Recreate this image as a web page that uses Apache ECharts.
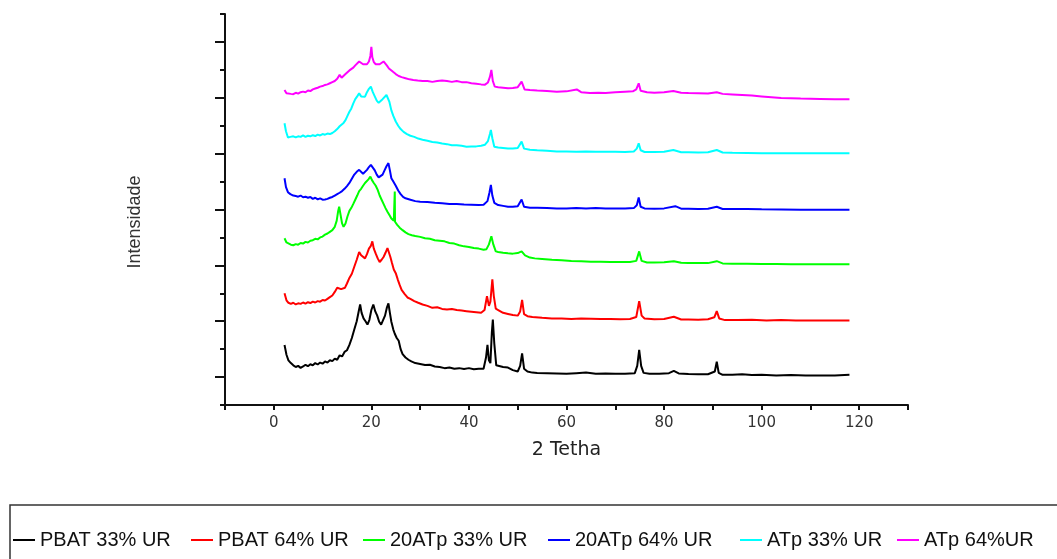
<!DOCTYPE html>
<html>
<head>
<meta charset="utf-8">
<script src="https://cdn.jsdelivr.net/npm/echarts@6/dist/echarts.min.js"></script>
<style>
html,body{margin:0;padding:0;background:#fff;}
#chart{width:1057px;height:559px;}
</style>
</head>
<body>
<div id="chart"></div>
<script>
// ---- data (2θ, intensity offset units) ----
const seriesNames = ['PBAT 33% UR', 'PBAT 64% UR', '20ATp 33% UR', '20ATp 64% UR', 'ATp 33% UR', 'ATp 64%UR'];
const seriesColors = ['#000000', '#ff0000', '#00ff00', '#0000ff', '#00ffff', '#ff00ff'];
const xTickLabels = [0, 20, 40, 60, 80, 100, 120];
const yMajorTicks = [1, 3, 5, 7, 9, 11, 13];

const pbat33 = [[2.2,2.15],[2.6,1.8],[3.0,1.6],[3.5,1.5],[4.0,1.42],[4.5,1.36],[5.0,1.4],[5.5,1.33],[6.0,1.38],[6.5,1.44],[7.0,1.39],[7.5,1.46],[8.0,1.42],[8.5,1.5],[9.0,1.45],[9.5,1.52],[10.0,1.48],[10.5,1.56],[11.0,1.52],[11.5,1.6],[12.0,1.57],[12.5,1.66],[13.0,1.62],[13.5,1.78],[14.0,1.74],[14.5,1.9],[15.0,1.96],[15.5,2.15],[16.0,2.4],[16.5,2.7],[17.0,3.0],[17.4,3.35],[17.7,3.6],[18.0,3.3],[18.4,3.1],[18.8,3.0],[19.2,2.88],[19.6,3.05],[20.0,3.4],[20.4,3.6],[20.8,3.35],[21.2,3.2],[21.6,2.98],[22.0,2.88],[22.4,2.95],[22.8,3.2],[23.2,3.5],[23.5,3.64],[23.8,3.3],[24.1,2.98],[24.5,2.7],[24.8,2.55],[25.2,2.4],[25.6,2.3],[26.0,2.0],[26.4,1.82],[27.0,1.7],[27.6,1.62],[28.2,1.56],[29.0,1.5],[30.0,1.47],[31.0,1.43],[32.0,1.44],[33.0,1.38],[34.0,1.36],[35.0,1.32],[36.0,1.34],[37.0,1.3],[38.0,1.32],[39.0,1.29],[40.0,1.32],[41.0,1.28],[42.0,1.3],[43.0,1.3],[43.5,1.7],[43.8,2.15],[44.1,1.6],[44.4,1.5],[44.7,2.6],[44.9,3.06],[45.2,2.2],[45.6,1.42],[46.0,1.4],[47.0,1.36],[48.0,1.34],[49.0,1.25],[50.0,1.2],[50.5,1.4],[50.9,1.85],[51.3,1.3],[52.0,1.2],[53.0,1.16],[54.0,1.15],[56.0,1.14],[58.0,1.13],[60.0,1.12],[62.0,1.14],[64.0,1.16],[66.0,1.12],[68.0,1.13],[70.0,1.12],[72.0,1.12],[74.0,1.14],[74.5,1.4],[74.9,1.97],[75.3,1.4],[75.8,1.15],[77.0,1.12],[79.0,1.12],[81.0,1.14],[82.0,1.22],[83.0,1.13],[85.0,1.11],[87.0,1.1],[89.0,1.1],[90.4,1.2],[90.8,1.55],[91.2,1.15],[92.0,1.08],[94.0,1.08],[96.0,1.1],[98.0,1.07],[100.0,1.08],[103.0,1.06],[106.0,1.07],[109.0,1.06],[112.0,1.06],[115.0,1.06],[118.0,1.08]];

const pbat64 = [[2.2,4.0],[2.6,3.75],[3.0,3.66],[3.5,3.62],[4.0,3.66],[4.5,3.6],[5.0,3.64],[5.5,3.62],[6.0,3.67],[6.5,3.63],[7.0,3.68],[7.5,3.65],[8.0,3.7],[8.5,3.67],[9.0,3.72],[9.5,3.7],[10.0,3.76],[10.5,3.74],[11.0,3.8],[11.5,3.86],[12.0,3.92],[12.5,4.05],[13.0,4.2],[13.4,4.26],[13.8,4.15],[14.2,4.1],[14.6,4.2],[15.0,4.35],[15.5,4.55],[16.0,4.7],[16.5,4.95],[17.0,5.2],[17.5,5.48],[17.9,5.36],[18.3,5.3],[18.7,5.25],[19.1,5.4],[19.5,5.6],[19.9,5.7],[20.2,5.86],[20.5,5.6],[20.9,5.42],[21.3,5.25],[21.7,5.12],[22.1,5.2],[22.5,5.3],[22.9,5.45],[23.3,5.62],[23.6,5.68],[23.9,5.3],[24.2,5.1],[24.6,4.85],[25.0,4.72],[25.4,4.5],[25.8,4.3],[26.2,4.12],[26.8,3.98],[27.4,3.85],[28.0,3.8],[28.8,3.72],[29.6,3.66],[30.5,3.6],[31.5,3.55],[32.5,3.48],[33.5,3.5],[34.5,3.44],[35.5,3.42],[36.5,3.44],[37.5,3.4],[38.5,3.38],[39.5,3.36],[40.5,3.34],[41.5,3.32],[42.5,3.3],[43.2,3.4],[43.7,3.9],[44.1,3.55],[44.4,3.7],[44.8,4.5],[45.1,3.9],[45.5,3.45],[46.0,3.4],[47.0,3.3],[48.0,3.26],[49.0,3.22],[50.0,3.2],[50.5,3.35],[50.9,3.76],[51.3,3.25],[52.0,3.18],[53.0,3.15],[55.0,3.12],[57.0,3.1],[59.0,3.1],[61.0,3.08],[63.0,3.1],[65.0,3.09],[67.0,3.08],[69.0,3.08],[71.0,3.07],[73.0,3.08],[74.3,3.15],[74.9,3.72],[75.4,3.2],[76.0,3.1],[78.0,3.07],[80.0,3.08],[82.0,3.16],[83.5,3.06],[85.0,3.06],[87.0,3.05],[89.0,3.07],[90.3,3.14],[90.8,3.36],[91.3,3.1],[92.5,3.04],[95.0,3.04],[98.0,3.05],[101.0,3.03],[104.0,3.04],[107.0,3.03],[110.0,3.03],[113.0,3.03],[116.0,3.03],[118.0,3.03]];

const atp20_33 = [[2.2,5.97],[2.6,5.82],[3.0,5.78],[3.5,5.74],[4.0,5.72],[4.5,5.76],[5.0,5.74],[5.5,5.8],[6.0,5.78],[6.5,5.84],[7.0,5.82],[7.5,5.88],[8.0,5.9],[8.5,5.95],[9.0,5.93],[9.5,6.0],[10.0,6.03],[10.5,6.1],[11.0,6.14],[11.5,6.2],[12.0,6.26],[12.5,6.38],[12.9,6.6],[13.2,6.95],[13.4,7.1],[13.7,6.8],[14.0,6.5],[14.3,6.38],[14.7,6.5],[15.1,6.75],[15.5,6.95],[15.9,7.06],[16.3,7.2],[16.7,7.35],[17.1,7.5],[17.5,7.66],[17.9,7.74],[18.3,7.85],[18.7,7.95],[19.0,8.0],[19.4,8.08],[19.8,8.18],[20.1,8.06],[20.5,7.95],[20.9,7.85],[21.3,7.7],[21.7,7.5],[22.1,7.35],[22.5,7.2],[22.9,7.05],[23.3,6.92],[23.7,6.8],[24.1,6.68],[24.6,6.6],[24.75,6.6],[24.8,7.64],[24.85,6.56],[25.3,6.45],[25.8,6.35],[26.4,6.26],[27.0,6.18],[27.6,6.12],[28.3,6.08],[29.0,6.05],[30.0,6.02],[31.0,5.97],[32.0,5.95],[33.0,5.9],[34.0,5.88],[35.0,5.86],[36.0,5.8],[37.0,5.78],[38.0,5.72],[39.0,5.68],[40.0,5.66],[41.0,5.62],[42.0,5.6],[43.0,5.56],[43.6,5.58],[44.1,5.75],[44.6,6.04],[45.0,5.75],[45.5,5.5],[46.0,5.48],[47.0,5.45],[48.0,5.43],[49.0,5.42],[50.0,5.44],[50.8,5.5],[51.5,5.36],[52.5,5.28],[53.5,5.25],[55.0,5.23],[57.0,5.2],[59.0,5.18],[61.0,5.16],[63.0,5.15],[65.0,5.13],[67.0,5.13],[69.0,5.12],[71.0,5.12],[73.0,5.12],[74.3,5.16],[74.9,5.5],[75.4,5.16],[76.5,5.1],[78.0,5.1],[80.0,5.11],[82.0,5.15],[83.5,5.09],[85.0,5.08],[87.0,5.08],[89.0,5.08],[90.8,5.15],[92.0,5.07],[94.0,5.06],[97.0,5.06],[100.0,5.05],[103.0,5.05],[106.0,5.04],[109.0,5.04],[112.0,5.04],[115.0,5.04],[118.0,5.04]];

const atp20_64 = [[2.2,8.12],[2.5,7.8],[2.9,7.62],[3.4,7.55],[4.0,7.5],[4.5,7.48],[5.0,7.46],[5.5,7.5],[6.0,7.44],[6.5,7.46],[7.0,7.42],[7.5,7.45],[8.0,7.38],[8.5,7.42],[9.0,7.36],[9.5,7.4],[10.0,7.35],[10.5,7.36],[11.0,7.38],[11.5,7.42],[12.0,7.45],[12.5,7.5],[13.0,7.55],[13.5,7.6],[14.0,7.66],[14.5,7.74],[15.0,7.84],[15.5,7.95],[16.0,8.1],[16.5,8.25],[17.0,8.35],[17.5,8.42],[17.9,8.36],[18.3,8.28],[18.7,8.3],[19.1,8.42],[19.5,8.52],[19.9,8.6],[20.3,8.5],[20.7,8.4],[21.1,8.25],[21.5,8.15],[21.9,8.12],[22.3,8.25],[22.7,8.4],[23.1,8.55],[23.5,8.66],[23.8,8.4],[24.1,8.12],[24.5,8.0],[25.0,7.85],[25.5,7.68],[26.0,7.55],[26.5,7.45],[27.0,7.4],[28.0,7.35],[29.0,7.3],[30.0,7.28],[31.5,7.27],[33.0,7.24],[34.5,7.22],[36.0,7.2],[37.5,7.2],[39.0,7.18],[40.5,7.17],[42.0,7.16],[43.0,7.17],[43.8,7.3],[44.2,7.6],[44.5,7.88],[44.8,7.5],[45.2,7.24],[46.0,7.16],[47.0,7.13],[48.0,7.1],[49.0,7.1],[50.0,7.12],[50.8,7.36],[51.3,7.1],[52.5,7.06],[54.0,7.06],[56.0,7.05],[58.0,7.04],[60.0,7.04],[62.0,7.05],[64.0,7.04],[66.0,7.05],[68.0,7.04],[70.0,7.04],[72.0,7.04],[73.8,7.05],[74.4,7.15],[74.8,7.43],[75.2,7.1],[76.0,7.04],[78.0,7.03],[80.0,7.04],[82.3,7.12],[83.5,7.03],[85.0,7.03],[87.0,7.02],[89.0,7.03],[90.8,7.1],[92.0,7.02],[94.0,7.02],[97.0,7.02],[100.0,7.01],[104.0,7.0],[108.0,6.99],[112.0,6.99],[115.0,6.99],[118.0,6.99]];

const atp33 = [[2.2,10.09],[2.5,9.8],[2.9,9.58],[3.4,9.6],[4.0,9.62],[4.5,9.58],[5.0,9.62],[5.5,9.6],[6.0,9.65],[6.5,9.6],[7.0,9.64],[7.5,9.62],[8.0,9.66],[8.5,9.63],[9.0,9.68],[9.5,9.65],[10.0,9.7],[10.5,9.68],[11.0,9.72],[11.5,9.7],[12.0,9.74],[12.5,9.8],[13.0,9.88],[13.5,9.98],[13.9,10.04],[14.3,10.1],[14.7,10.2],[15.1,10.35],[15.5,10.5],[15.9,10.62],[16.3,10.8],[16.7,10.95],[17.1,11.05],[17.5,11.16],[17.9,11.05],[18.3,11.1],[18.7,11.04],[19.1,11.2],[19.5,11.32],[19.9,11.4],[20.3,11.2],[20.7,11.05],[21.1,10.9],[21.5,10.82],[21.9,10.85],[22.3,10.95],[22.7,11.02],[23.1,11.1],[23.4,11.12],[23.7,10.85],[24.1,10.55],[24.5,10.35],[25.0,10.15],[25.5,10.0],[26.0,9.88],[26.6,9.78],[27.3,9.7],[28.0,9.64],[28.8,9.6],[29.6,9.54],[30.5,9.5],[31.5,9.46],[32.5,9.42],[33.5,9.4],[34.5,9.36],[35.5,9.34],[36.5,9.3],[37.5,9.3],[38.5,9.28],[39.5,9.25],[40.5,9.26],[41.5,9.26],[42.5,9.28],[43.3,9.32],[43.9,9.45],[44.3,9.7],[44.5,9.85],[44.8,9.55],[45.2,9.25],[46.0,9.22],[47.0,9.2],[48.0,9.18],[49.0,9.18],[50.0,9.2],[50.8,9.43],[51.3,9.18],[52.5,9.14],[54.0,9.12],[56.0,9.1],[58.0,9.08],[60.0,9.08],[62.0,9.07],[64.0,9.08],[66.0,9.07],[68.0,9.07],[70.0,9.07],[72.0,9.06],[73.8,9.08],[74.4,9.18],[74.8,9.37],[75.2,9.12],[76.0,9.06],[78.0,9.06],[80.0,9.07],[81.9,9.13],[83.5,9.05],[85.0,9.05],[87.0,9.04],[89.0,9.05],[90.8,9.13],[92.0,9.04],[94.0,9.03],[97.0,9.02],[100.0,9.01],[104.0,9.01],[108.0,9.01],[112.0,9.01],[115.0,9.01],[118.0,9.01]];

const atp64 = [[2.2,11.28],[2.6,11.16],[3.0,11.12],[3.5,11.14],[4.0,11.13],[4.5,11.18],[5.0,11.15],[5.5,11.2],[6.0,11.22],[6.5,11.2],[7.0,11.26],[7.5,11.24],[8.0,11.3],[8.5,11.33],[9.0,11.36],[9.5,11.4],[10.0,11.42],[10.5,11.46],[11.0,11.48],[11.5,11.52],[12.0,11.56],[12.5,11.6],[13.0,11.68],[13.5,11.82],[13.9,11.72],[14.3,11.75],[14.7,11.85],[15.1,11.9],[15.5,11.98],[15.9,12.04],[16.3,12.08],[16.7,12.16],[17.1,12.22],[17.5,12.3],[17.9,12.24],[18.3,12.2],[18.7,12.16],[19.1,12.2],[19.5,12.3],[19.8,12.5],[20.0,12.82],[20.2,12.45],[20.5,12.28],[20.9,12.2],[21.3,12.16],[21.7,12.2],[22.1,12.26],[22.5,12.3],[22.8,12.28],[23.2,12.15],[23.6,12.05],[24.0,12.0],[24.5,11.92],[25.0,11.85],[25.6,11.78],[26.2,11.74],[27.0,11.7],[27.8,11.66],[28.6,11.64],[29.5,11.62],[30.5,11.6],[31.5,11.6],[32.5,11.57],[33.5,11.6],[34.5,11.62],[35.5,11.6],[36.5,11.57],[37.5,11.6],[38.5,11.56],[39.5,11.56],[40.5,11.52],[41.5,11.5],[42.5,11.48],[43.3,11.47],[43.9,11.55],[44.3,11.75],[44.6,12.0],[44.9,11.6],[45.3,11.4],[46.0,11.38],[47.0,11.36],[48.0,11.34],[49.0,11.35],[50.0,11.38],[50.8,11.58],[51.4,11.3],[52.5,11.28],[54.0,11.26],[56.0,11.24],[58.0,11.22],[60.0,11.23],[62.1,11.3],[63.0,11.2],[64.8,11.17],[66.5,11.18],[68.0,11.17],[70.0,11.2],[72.0,11.22],[73.6,11.23],[74.3,11.3],[74.8,11.52],[75.2,11.25],[76.5,11.2],[78.0,11.18],[80.0,11.2],[81.9,11.24],[83.5,11.18],[85.0,11.17],[87.0,11.16],[89.0,11.15],[90.8,11.2],[92.0,11.14],[94.0,11.12],[96.0,11.1],[98.0,11.08],[100.0,11.05],[104.0,10.99],[108.0,10.97],[112.0,10.96],[115.0,10.95],[118.0,10.95]];

const seriesData = [pbat33, pbat64, atp20_33, atp20_64, atp33, atp64];

// legend text start positions (px)
const legendTextX = [40, 218, 390, 575, 767, 924];

const chart = echarts.init(document.getElementById('chart'), null, {renderer: 'canvas'});

const axisLineStyle = {color: '#111', width: 2};

const option = {
  animation: false,
  backgroundColor: '#ffffff',
  grid: {left: 225, right: 149, top: 14, bottom: 154, containLabel: false},
  xAxis: {
    type: 'value',
    min: -10, max: 130, interval: 10,
    name: '2 Tetha',
    nameLocation: 'middle',
    nameGap: 36,
    nameTextStyle: {fontFamily: 'DejaVu Sans', fontSize: 19, color: '#222'},
    axisLine: {show: true, onZero: false, lineStyle: axisLineStyle},
    axisTick: {show: true, inside: false, length: 5, lineStyle: {color: '#111', width: 2}},
    axisLabel: {
      margin: 11,
      fontFamily: 'DejaVu Sans', fontSize: 15, color: '#333',
      formatter: function (v) { return xTickLabels.indexOf(v) >= 0 ? String(v) : ''; }
    },
    splitLine: {show: false}
  },
  yAxis: [
    {
      type: 'value', min: 0, max: 14, interval: 1,
      axisLine: {show: true, onZero: false, lineStyle: axisLineStyle},
      axisTick: {show: true, inside: false, length: 5, lineStyle: {color: '#111', width: 2}},
      axisLabel: {show: false},
      splitLine: {show: false}
    },
    {
      type: 'value', min: 0, max: 14, interval: 1, position: 'left', offset: 0,
      axisLine: {show: false, onZero: false},
      axisTick: {show: true, inside: false, length: 10, customValues: yMajorTicks, lineStyle: {color: '#111', width: 2}},
      axisLabel: {show: false},
      splitLine: {show: false}
    }
  ],
  legend: seriesNames.map(function (n, i) {
    return {
      data: [n],
      left: legendTextX[i] - 27,
      top: 530,
      padding: 0,
      icon: 'rect',
      itemWidth: 22,
      itemHeight: 2,
      selectedMode: false,
      textStyle: {fontFamily: 'Liberation Sans, Arial', fontSize: 20, color: '#111', lineHeight: 20}
    };
  }),
  graphic: [
    {
      type: 'rect',
      shape: {x: 10, y: 505, width: 1070, height: 80},
      style: {fill: 'none', stroke: '#333', lineWidth: 1.5},
      silent: true
    },
    {
      type: 'text',
      x: 135, y: 222,
      rotation: Math.PI / 2,
      style: {text: 'Intensidade', font: '18px "Liberation Sans", Arial', fill: '#333', textAlign: 'center', textVerticalAlign: 'middle'},
      silent: true
    }
  ],
  series: seriesNames.map(function (n, i) {
    return {
      name: n,
      type: 'line',
      data: seriesData[i],
      showSymbol: false,
      symbol: 'none',
      color: seriesColors[i],
      lineStyle: {width: 2, color: seriesColors[i]},
      itemStyle: {color: seriesColors[i]},
      xAxisIndex: 0,
      yAxisIndex: 0
    };
  })
};
chart.setOption(option);
</script>
</body>
</html>
